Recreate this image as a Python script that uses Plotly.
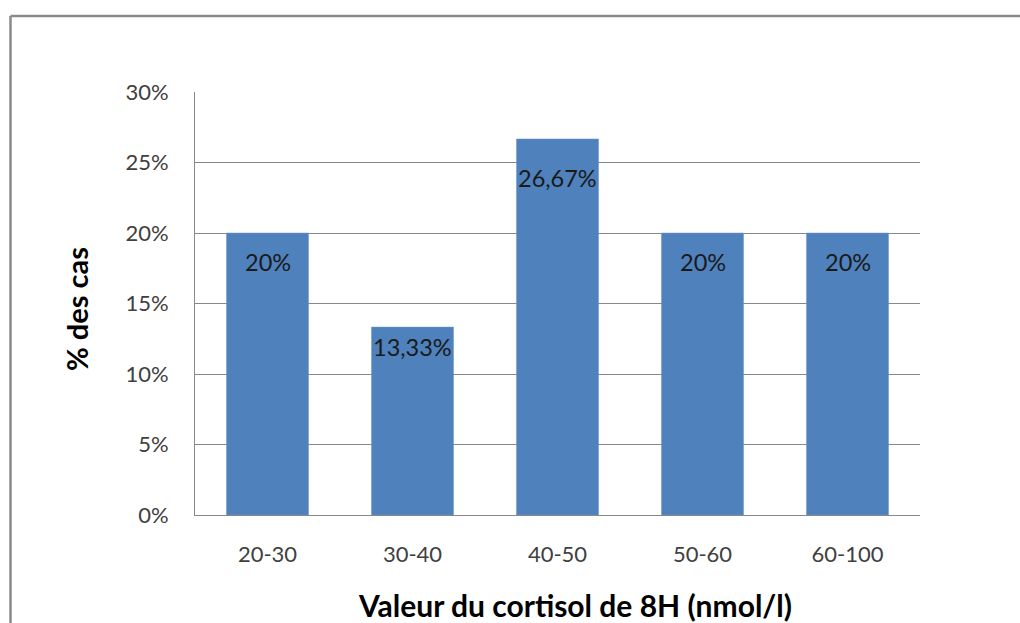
import plotly.graph_objects as go

# Distribution des cas selon la valeur du cortisol de 8H
categories = ["20-30", "30-40", "40-50", "50-60", "60-100"]
pct_values = [20.0, 13.33, 26.67, 20.0, 20.0]
value_labels = ["20%", "13,33%", "26,67%", "20%", "20%"]
y_ticks = [0, 5, 10, 15, 20, 25, 30]
y_tick_labels = ["0%", "5%", "10%", "15%", "20%", "25%", "30%"]

# vertical placement of each label below its bar top (pixels)
label_shift = [-29, -20, -39, -29, -29]

W, H = 1020, 623
L, R, T, B = 195, 100, 92, 108
plot_w = W - L - R
plot_h = H - T - B

FONT = "Lato"
BAR = "#4F81BD"
GRID = "#888888"

fig = go.Figure(
    go.Bar(
        x=categories,
        y=pct_values,
        marker=dict(color=BAR, line=dict(color="#6f97c9", width=0.5)),
        hoverinfo="skip",
    )
)

for cat, val, lab, dy in zip(categories, pct_values, value_labels, label_shift):
    fig.add_annotation(
        x=cat, y=val, text=lab, showarrow=False,
        yanchor="middle", yshift=dy,
        font=dict(family=FONT, size=23.5, color="#1a1a1a"),
    )

# axis titles
fig.add_annotation(
    xref="paper", yref="paper",
    x=(575 - L) / plot_w, y=-(605 - (T + plot_h)) / plot_h,
    text="<b>Valeur du cortisol de 8H (nmol/l)</b>", showarrow=False,
    xanchor="center", yanchor="middle",
    font=dict(family=FONT, size=30, color="#000000"),
)
fig.add_annotation(
    xref="paper", yref="paper",
    x=-(L - 76) / plot_w, y=(T + plot_h - 309) / plot_h,
    text="<b>% des cas</b>", showarrow=False, textangle=-90,
    xanchor="center", yanchor="middle",
    font=dict(family=FONT, size=29, color="#000000"),
)

# outer chart frame (top and left edges)
px = lambda v: (v - L) / plot_w
py = lambda v: (T + plot_h - v) / plot_h
fig.add_shape(type="line", xref="paper", yref="paper",
              x0=px(10.5), x1=px(1030), y0=py(16), y1=py(16),
              line=dict(color="#8a8a8a", width=2.5))
fig.add_shape(type="line", xref="paper", yref="paper",
              x0=px(10.5), x1=px(10.5), y0=py(16), y1=py(640),
              line=dict(color="#8a8a8a", width=2.5))

fig.update_layout(
    width=W, height=H,
    margin=dict(l=L, r=R, t=T, b=B, pad=0),
    paper_bgcolor="white", plot_bgcolor="white",
    bargap=0.434,
    showlegend=False,
    font=dict(family=FONT),
    xaxis=dict(
        showline=True, linecolor=GRID, linewidth=1,
        showgrid=False, ticks="",
        tickfont=dict(family=FONT, size=22, color="#404040"),
        ticklabelstandoff=20,
    ),
    yaxis=dict(
        range=[0, 30],
        tickvals=y_ticks, ticktext=y_tick_labels,
        showline=True, linecolor=GRID, linewidth=1,
        showgrid=True, gridcolor=GRID, gridwidth=1,
        zeroline=False, ticks="",
        tickfont=dict(family=FONT, size=22, color="#404040"),
        ticklabelstandoff=21,
    ),
)

fig.write_html("out.html")
